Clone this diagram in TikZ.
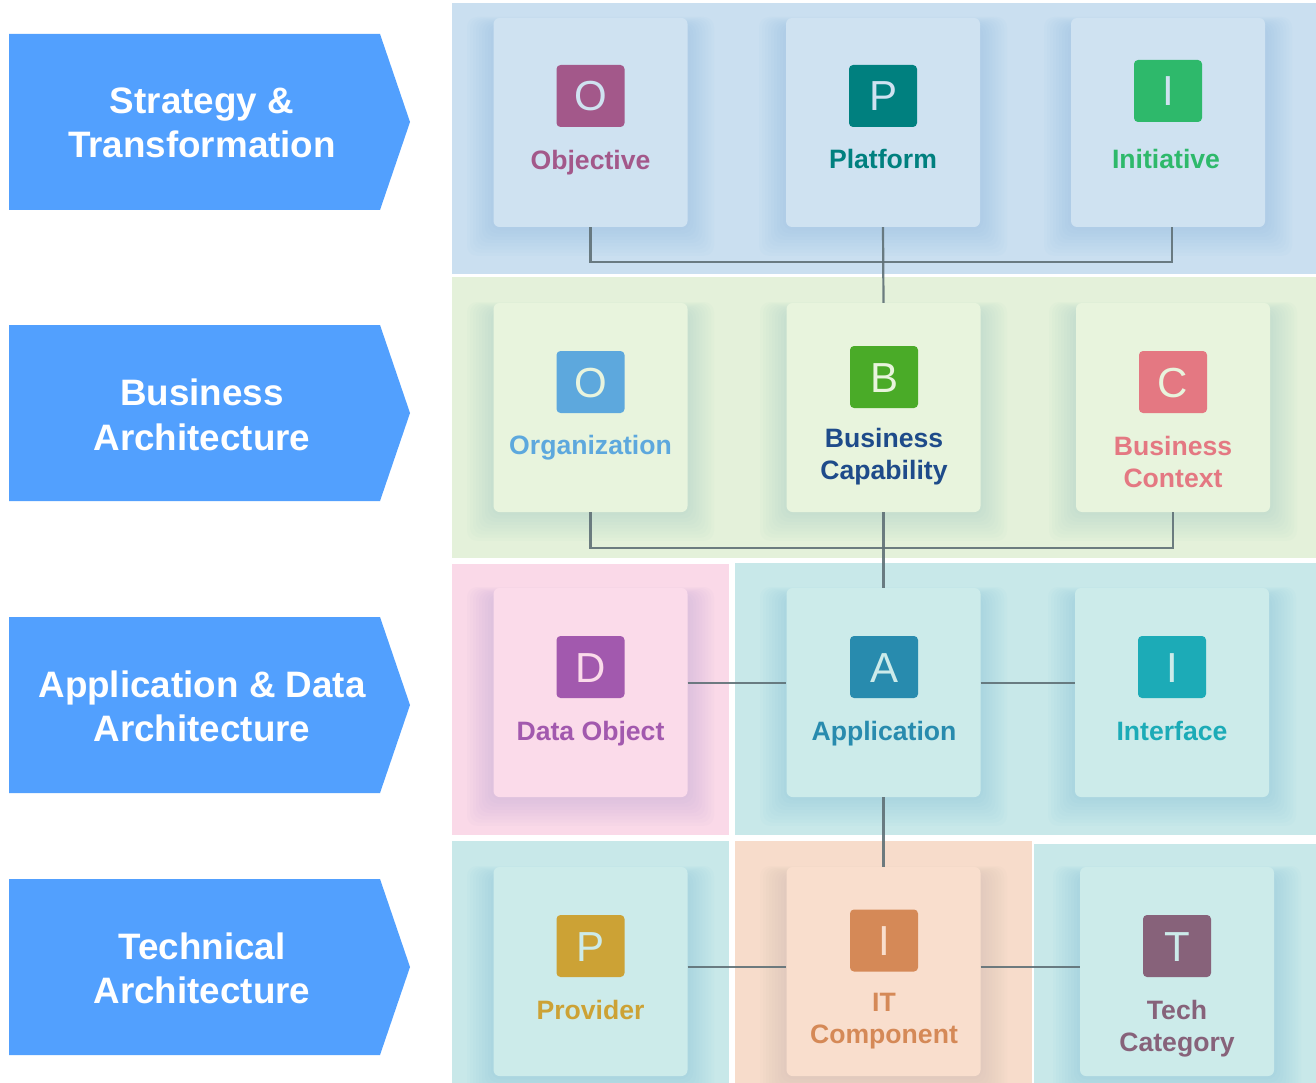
\documentclass[tikz,border=0pt]{standalone}
\usepackage{fontspec}
\setmainfont{Liberation Sans}
\definecolor{arrowblue}{HTML}{52A0FE}
\definecolor{conncol}{HTML}{5F7076}
\definecolor{panelA}{HTML}{CADFF0}\definecolor{cardA}{HTML}{CFE2F1}\definecolor{shadA}{HTML}{8DB9E2}
\definecolor{panelB}{HTML}{E4F1DA}\definecolor{cardB}{HTML}{E8F4DD}\definecolor{shadB}{HTML}{A2CCC4}
\definecolor{panelP}{HTML}{FAD9E8}\definecolor{cardP}{HTML}{FBDBEA}\definecolor{shadP}{HTML}{BCA3D4}
\definecolor{panelT}{HTML}{C8E8E9}\definecolor{cardT}{HTML}{CCEBEA}\definecolor{shadT}{HTML}{86C2D8}
\definecolor{panelO}{HTML}{F7DCCB}\definecolor{cardO}{HTML}{F9DECD}\definecolor{shadO}{HTML}{C9B6B0}
\definecolor{cObj}{HTML}{A3588A}
\definecolor{cPlat}{HTML}{00807F}
\definecolor{cInit}{HTML}{2EB96B}
\definecolor{cOrg}{HTML}{5DA8DD}
\definecolor{cBcap}{HTML}{4AAB28}
\definecolor{tBcap}{HTML}{1E4B8A}
\definecolor{cBctx}{HTML}{E47882}
\definecolor{cData}{HTML}{A259AE}
\definecolor{cApp}{HTML}{288BAE}
\definecolor{cIntf}{HTML}{1CABB7}
\definecolor{cProv}{HTML}{CCA235}
\definecolor{cItc}{HTML}{D58957}
\definecolor{cTech}{HTML}{87627A}
\newcommand\cshadow[5]{\foreach \k in {1,...,9}{\fill[#5,opacity=0.05,rounded corners=10pt] ({#1-3*\k},{#2+8-\k}) rectangle ({#3+3*\k},{#4+3.2*\k});}}
\begin{document}
\begin{tikzpicture}[x=1pt,y=-1pt,
  cardbox/.style={rectangle, minimum width=194pt, minimum height=209pt, inner sep=0pt, rounded corners=6pt},
  iconbox/.style={rectangle, minimum width=68pt, minimum height=62pt, inner sep=0pt, rounded corners=4pt, font=\fontsize{42}{42}\selectfont, text height=30pt, text depth=0pt},
  lbl/.style={font=\fontsize{26.6}{32}\selectfont\bfseries, align=center, text depth=0pt, inner sep=0pt},
  bandtext/.style={font=\fontsize{36.8}{44.5}\selectfont\bfseries, text=white, align=center, text depth=0pt, inner sep=0pt},
  conn/.style={draw=conncol, line width=2.2pt, opacity=0.9}]
\useasboundingbox (0,0) rectangle (1316,1083);
\fill[white] (0,0) rectangle (1316,1083);
% panels
\fill[panelA] (452,3) rectangle (1316,274);
\fill[panelB] (452,277) rectangle (1316,558);
\fill[panelP] (452,564) rectangle (729,835);
\fill[panelT] (735,563) rectangle (1316,835);
\fill[panelT] (452,841) rectangle (729,1083);
\fill[panelO] (735,841) rectangle (1032,1083);
\fill[panelT] (1034,844) rectangle (1316,1083);
% shadows
\cshadow{494}{18}{687}{227}{shadA}
\cshadow{786}{18}{980}{227}{shadA}
\cshadow{1071}{18}{1265}{227}{shadA}
\cshadow{494}{303}{687}{512}{shadB}
\cshadow{787}{303}{980}{512}{shadB}
\cshadow{1076}{303}{1270}{512}{shadB}
\cshadow{494}{588}{687}{797}{shadP}
\cshadow{787}{588}{980}{797}{shadT}
\cshadow{1075}{588}{1269}{797}{shadT}
\cshadow{494}{867}{687}{1076}{shadT}
\cshadow{787}{867}{980}{1076}{shadO}
\cshadow{1080}{867}{1274}{1076}{shadT}
% left bands
\fill[arrowblue] (9,34) -- (380,34) -- (410,122) -- (380,210) -- (9,210) -- cycle;
\fill[arrowblue] (9,325) -- (380,325) -- (410,413) -- (380,501) -- (9,501) -- cycle;
\fill[arrowblue] (9,617) -- (380,617) -- (410,705) -- (380,793) -- (9,793) -- cycle;
\fill[arrowblue] (9,879) -- (380,879) -- (410,967) -- (380,1055) -- (9,1055) -- cycle;
\node[bandtext] (b1) at (202,122.5) {Strategy \&\\Transformation};
\node[bandtext] (b2) at (202,414.5) {Business\\Architecture};
\node[bandtext] (b3) at (202,706) {Application \& Data\\Architecture};
\node[bandtext] (b4) at (202,968) {Technical\\Architecture};
% cards row 1
\node[cardbox, fill=cardA] (obj) at (590.5,122.5) {};
\node[cardbox, fill=cardA] (plat) at (883,122.5) {};
\node[cardbox, fill=cardA] (init) at (1168,122.5) {};
\node[iconbox, fill=cObj, text=cardA] (objI) at (590.5,96) {O};
\node[iconbox, fill=cPlat, text=cardA] (platI) at (883,96) {P};
\node[iconbox, fill=cInit, text=cardA] (initI) at (1168,91) {I};
\node[lbl, text=cObj] (objL) at (590.5,160) {Objective};
\node[lbl, text=cPlat] (platL) at (883,159) {Platform};
\node[lbl, text=cInit] (initL) at (1166,159) {Initiative};
% cards row 2
\node[cardbox, fill=cardB] (org) at (590.5,407.5) {};
\node[cardbox, fill=cardB] (bcap) at (883.5,407.5) {};
\node[cardbox, fill=cardB] (bctx) at (1173,407.5) {};
\node[iconbox, fill=cOrg, text=cardB] (orgI) at (590.5,382) {O};
\node[iconbox, fill=cBcap, text=cardB] (bcapI) at (884,377) {B};
\node[iconbox, fill=cBctx, text=cardB] (bctxI) at (1173,382) {C};
\node[lbl, text=cOrg] (orgL) at (590.5,445) {Organization};
\node[lbl, text=tBcap] (bcapL) at (884,454) {Business\\Capability};
\node[lbl, text=cBctx] (bctxL) at (1173,462) {Business\\Context};
% cards row 3
\node[cardbox, fill=cardP] (dobj) at (590.5,692.5) {};
\node[cardbox, fill=cardT] (app) at (883.5,692.5) {};
\node[cardbox, fill=cardT] (intf) at (1172,692.5) {};
\node[iconbox, fill=cData, text=cardP] (dobjI) at (590.5,667) {D};
\node[iconbox, fill=cApp, text=cardT] (appI) at (884,667) {A};
\node[iconbox, fill=cIntf, text=cardT] (intfI) at (1172,667) {I};
\node[lbl, text=cData] (dobjL) at (590.5,731) {Data Object};
\node[lbl, text=cApp] (appL) at (884,731) {Application};
\node[lbl, text=cIntf] (intfL) at (1172,731) {Interface};
% cards row 4
\node[cardbox, fill=cardT] (prov) at (590.5,971.5) {};
\node[cardbox, fill=cardO] (itc) at (883.5,971.5) {};
\node[cardbox, fill=cardT] (tech) at (1177,971.5) {};
\node[iconbox, fill=cProv, text=cardT] (provI) at (590.5,946) {P};
\node[iconbox, fill=cItc, text=cardO] (itcI) at (884,940.5) {I};
\node[iconbox, fill=cTech, text=cardT] (techI) at (1177,946) {T};
\node[lbl, text=cProv] (provL) at (590.5,1010) {Provider};
\node[lbl, text=cItc] (itcL) at (884,1018) {IT\\Component};
\node[lbl, text=cTech] (techL) at (1177,1026) {Tech\\Category};
% connectors
\coordinate (bus1) at (883,262);
\coordinate (bus2) at (884,548);
\draw[conn] (obj.south) |- (bus1) -| ([xshift=4pt]init.south);
\draw[conn] (plat.south) -- (bcap.north);
\draw[conn] (org.south) |- (bus2) -| (bctx.south);
\draw[conn] (bcap.south) -- (app.north);
\draw[conn] ([yshift=9.5pt]dobj.east) -- ([yshift=9.5pt]app.west);
\draw[conn] ([yshift=9.5pt]app.east) -- ([yshift=9.5pt]intf.west);
\draw[conn] (app.south) -- (itc.north);
\draw[conn] ([yshift=4.5pt]prov.east) -- ([yshift=4.5pt]itc.west);
\draw[conn] ([yshift=4.5pt]itc.east) -- ([yshift=4.5pt]tech.west);
\end{tikzpicture}
\end{document}
